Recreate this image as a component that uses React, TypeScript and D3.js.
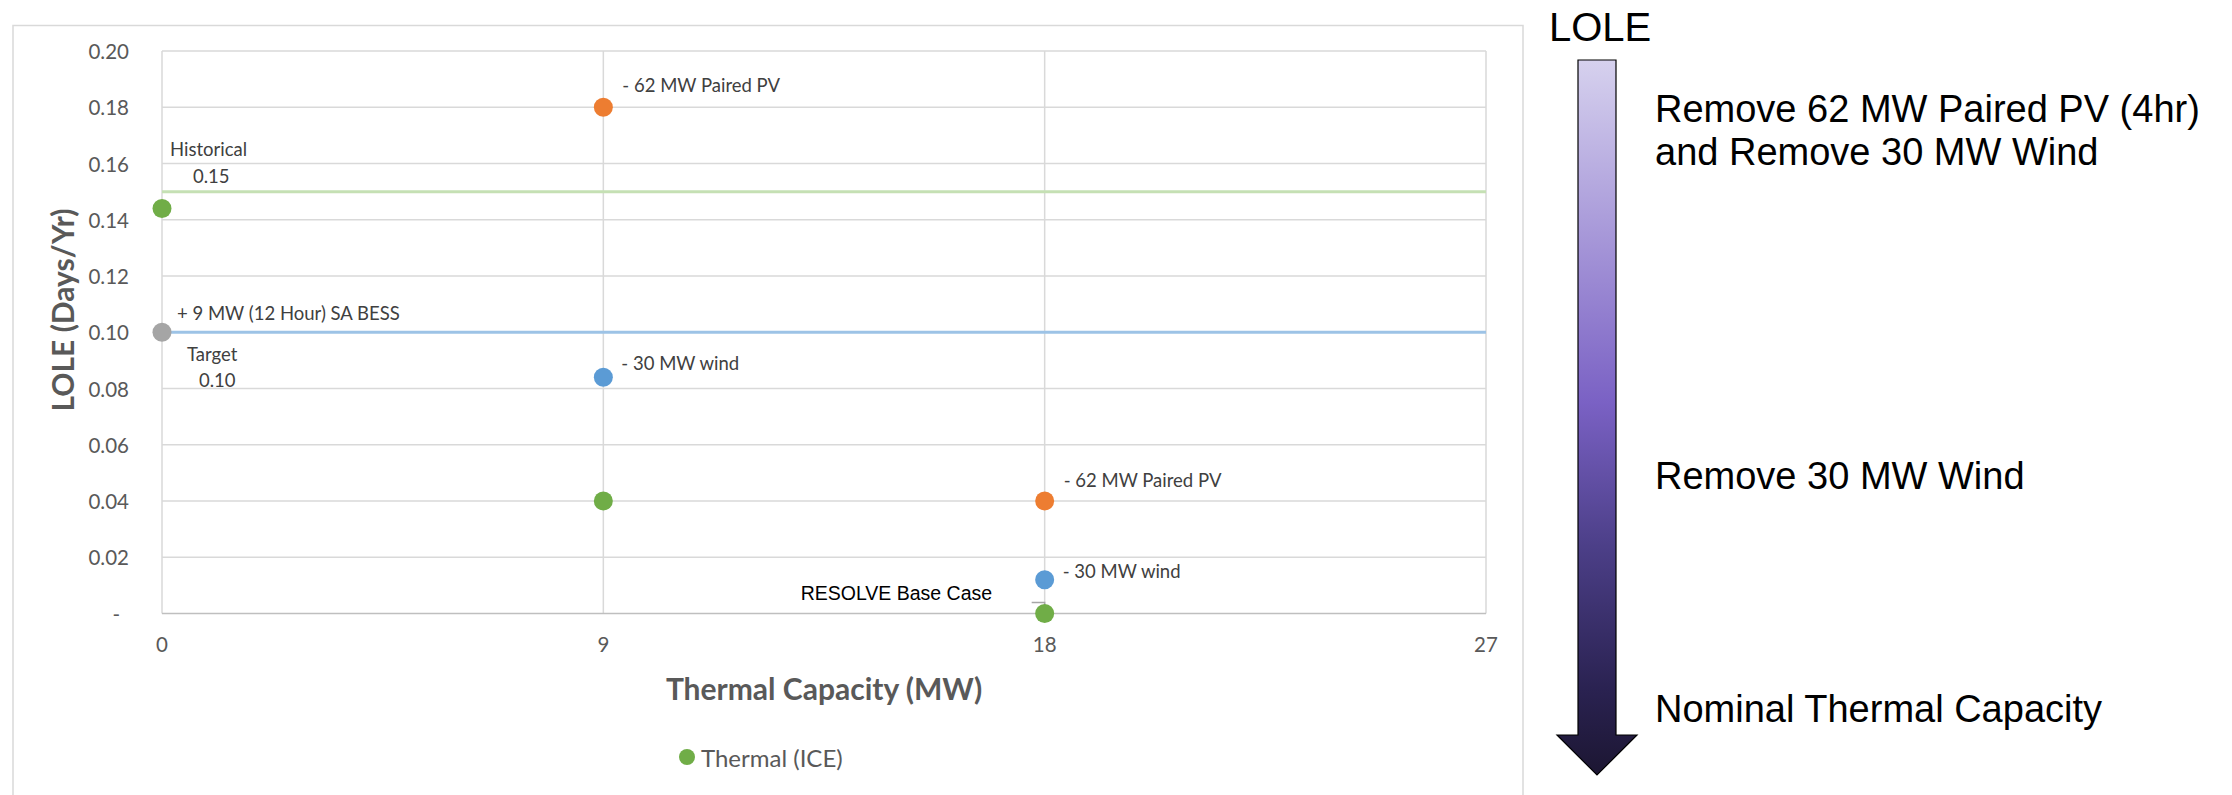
import React, { useEffect, useRef } from 'react';
import * as d3 from 'd3';

// Scenario points (thermal capacity in MW, LOLE in days/yr)
const thermalCapacity = [0, 9, 18];
const thermalLole = [0.144, 0.04, 0];
const pvCapacity = [9, 18];
const pvLole = [0.18, 0.04];
const pvLabels = ['- 62 MW Paired PV', '- 62 MW Paired PV'];
const windCapacity = [9, 18];
const windLole = [0.084, 0.012];
const windLabels = ['- 30 MW wind', '- 30 MW wind'];
const bessCapacity = [0];
const bessLole = [0.1];
const bessLabels = ['+ 9 MW (12 Hour) SA BESS'];

const historicalLole = 0.15;
const targetLole = 0.1;

const xTickValues = [0, 9, 18, 27];
const yTickValues = [0, 0.02, 0.04, 0.06, 0.08, 0.1, 0.12, 0.14, 0.16, 0.18, 0.2];

const legendLabel = 'Thermal (ICE)';
const arrowTitle = 'LOLE';
const arrowSteps = [
  ['Remove 62 MW Paired PV (4hr)', 'and Remove 30 MW Wind'],
  ['Remove 30 MW Wind'],
  ['Nominal Thermal Capacity'],
];

const COLORS = {
  thermal: '#70AD47',
  pv: '#ED7D31',
  wind: '#5B9BD5',
  bess: '#A5A5A5',
  grid: '#D9D9D9',
  axis: '#BFBFBF',
  tick: '#595959',
  label: '#404040',
  historical: '#C5E0B4',
  target: '#9DC3E6',
};

const FONT = 'Lato, "Open Sans", sans-serif';
const ARIAL = '"Liberation Sans", Arial, sans-serif';

const App: React.FC = () => {
  const svgRef = useRef<SVGSVGElement>(null);

  useEffect(() => {
    if (!svgRef.current) return;
    const width = 2232;
    const height = 795;

    const svg = d3.select(svgRef.current);
    svg.selectAll('*').remove();

    svg.append('rect').attr('width', width).attr('height', height).attr('fill', '#fff');

    // chart frame
    svg.append('rect')
      .attr('x', 13).attr('y', 25.5)
      .attr('width', 1510).attr('height', 800)
      .attr('fill', 'none')
      .attr('stroke', COLORS.grid)
      .attr('stroke-width', 1.5);

    const x = d3.scaleLinear().domain([0, 27]).range([162, 1486]);
    const y = d3.scaleLinear().domain([0, 0.2]).range([613.5, 51]);

    // gridlines
    svg.append('g')
      .selectAll('line')
      .data(yTickValues.filter(d => d > 0))
      .join('line')
      .attr('x1', x(0)).attr('x2', x(27))
      .attr('y1', d => y(d)).attr('y2', d => y(d))
      .attr('stroke', COLORS.grid)
      .attr('stroke-width', 1.5);

    svg.append('g')
      .selectAll('line')
      .data(xTickValues)
      .join('line')
      .attr('x1', d => x(d)).attr('x2', d => x(d))
      .attr('y1', y(0.2)).attr('y2', y(0))
      .attr('stroke', COLORS.grid)
      .attr('stroke-width', 1.5);

    // x axis line
    svg.append('line')
      .attr('x1', x(0)).attr('x2', x(27))
      .attr('y1', y(0)).attr('y2', y(0))
      .attr('stroke', COLORS.axis)
      .attr('stroke-width', 1.5);

    // tick labels
    svg.append('g')
      .selectAll('text')
      .data(yTickValues)
      .join('text')
      .attr('x', d => (d === 0 ? 120 : 129))
      .attr('y', d => y(d))
      .attr('text-anchor', 'end')
      .attr('dominant-baseline', 'central')
      .style('font-family', FONT)
      .style('font-size', '20.5px')
      .style('fill', COLORS.tick)
      .text(d => (d === 0 ? '-' : d3.format('.2f')(d)));

    svg.append('g')
      .selectAll('text')
      .data(xTickValues)
      .join('text')
      .attr('x', d => x(d))
      .attr('y', 644)
      .attr('text-anchor', 'middle')
      .attr('dominant-baseline', 'central')
      .style('font-family', FONT)
      .style('font-size', '20.5px')
      .style('fill', COLORS.tick)
      .text(d => d);

    // axis titles
    svg.append('text')
      .attr('x', (x(0) + x(27)) / 2)
      .attr('y', 688)
      .attr('text-anchor', 'middle')
      .attr('dominant-baseline', 'central')
      .style('font-family', FONT)
      .style('font-size', '30px')
      .style('font-weight', 'bold')
      .style('fill', COLORS.tick)
      .text('Thermal Capacity (MW)');

    svg.append('text')
      .attr('transform', 'translate(62,310) rotate(-90)')
      .attr('text-anchor', 'middle')
      .attr('dominant-baseline', 'central')
      .style('font-family', FONT)
      .style('font-size', '30px')
      .style('font-weight', 'bold')
      .style('fill', COLORS.tick)
      .text('LOLE (Days/Yr)');

    // reference lines
    svg.append('line')
      .attr('x1', x(0)).attr('x2', x(27))
      .attr('y1', y(historicalLole)).attr('y2', y(historicalLole))
      .attr('stroke', COLORS.historical)
      .attr('stroke-width', 3);
    svg.append('line')
      .attr('x1', x(0)).attr('x2', x(27))
      .attr('y1', y(targetLole)).attr('y2', y(targetLole))
      .attr('stroke', COLORS.target)
      .attr('stroke-width', 3);

    const labelText = (tx: number, ty: number, s: string, color = COLORS.label, font = FONT, size = '18.5px') =>
      svg.append('text')
        .attr('x', tx).attr('y', ty)
        .attr('dominant-baseline', 'central')
        .style('font-family', font)
        .style('font-size', size)
        .style('fill', color)
        .text(s);

    labelText(x(0) + 8, y(historicalLole) - 43, 'Historical');
    labelText(x(0) + 31, y(historicalLole) - 16, d3.format('.2f')(historicalLole));
    labelText(x(0) + 25, y(targetLole) + 22, 'Target');
    labelText(x(0) + 37, y(targetLole) + 48, d3.format('.2f')(targetLole));

    // leader line for base case
    const baseX = x(thermalCapacity[2]);
    const baseY = y(thermalLole[2]);
    svg.append('path')
      .attr('d', `M${baseX - 13},${baseY - 11}H${baseX}V${baseY}`)
      .attr('fill', 'none')
      .attr('stroke', '#A6A6A6')
      .attr('stroke-width', 1.5);
    labelText(baseX - 244, baseY - 21, 'RESOLVE Base Case', '#000', ARIAL, '19.5px');

    // markers
    const drawSeries = (xs: number[], ys: number[], color: string) =>
      svg.append('g')
        .selectAll('circle')
        .data(xs.map((d, i) => [d, ys[i]]))
        .join('circle')
        .attr('cx', d => x(d[0]))
        .attr('cy', d => y(d[1]))
        .attr('r', 9.5)
        .attr('fill', color);

    drawSeries(bessCapacity, bessLole, COLORS.bess);
    drawSeries(thermalCapacity, thermalLole, COLORS.thermal);
    drawSeries(windCapacity, windLole, COLORS.wind);
    drawSeries(pvCapacity, pvLole, COLORS.pv);

    // point labels
    const pvDy = [-22, -21];
    const windDy = [-14, -9];
    pvLabels.forEach((s, i) => labelText(x(pvCapacity[i]) + 19, y(pvLole[i]) + pvDy[i], s));
    windLabels.forEach((s, i) => labelText(x(windCapacity[i]) + 18, y(windLole[i]) + windDy[i], s));
    bessLabels.forEach((s, i) => labelText(x(bessCapacity[i]) + 15, y(bessLole[i]) - 19, s));

    // legend
    svg.append('circle').attr('cx', 687).attr('cy', 757).attr('r', 8).attr('fill', COLORS.thermal);
    svg.append('text')
      .attr('x', 701).attr('y', 757)
      .attr('dominant-baseline', 'central')
      .style('font-family', FONT)
      .style('font-size', '24px')
      .style('fill', COLORS.tick)
      .text(legendLabel);

    // right side: LOLE direction arrow
    const defs = svg.append('defs');
    const grad = defs.append('linearGradient')
      .attr('id', 'arrowGrad')
      .attr('x1', 0).attr('y1', 0).attr('x2', 0).attr('y2', 1);
    [
      [0, '#D6D1EE'],
      [0.48, '#7A61C4'],
      [0.68, '#4C3F88'],
      [0.88, '#2A2251'],
      [1, '#1C1632'],
    ].forEach(([o, c]) => grad.append('stop').attr('offset', o as number).attr('stop-color', c as string));

    const shaftL = 1578, shaftR = 1616, top = 60, headY = 735, tipY = 775;
    const headL = 1557, headR = 1637, tipX = (headL + headR) / 2;
    svg.append('path')
      .attr('d', `M${shaftL},${top}H${shaftR}V${headY}H${headR}L${tipX},${tipY}L${headL},${headY}H${shaftL}Z`)
      .attr('fill', 'url(#arrowGrad)')
      .attr('stroke', '#000')
      .attr('stroke-width', 1.2);

    svg.append('text')
      .attr('x', 1549).attr('y', 41)
      .style('font-family', ARIAL)
      .style('font-size', '40px')
      .style('fill', '#000')
      .text(arrowTitle);

    const stepBaselines = [121.5, 489, 721.5];
    arrowSteps.forEach((lines, i) => {
      lines.forEach((s, j) => {
        svg.append('text')
          .attr('x', 1655)
          .attr('y', stepBaselines[i] + j * 43.5)
          .style('font-family', ARIAL)
          .style('font-size', '38px')
          .style('fill', '#000')
          .text(s);
      });
    });
  }, []);

  return (
    <div style={{ width: 2232, height: 795 }}>
      <style>{'body{margin:0}'}</style>
      <svg ref={svgRef} width={2232} height={795} viewBox="0 0 2232 795" style={{ display: 'block' }} />
    </div>
  );
};

export default App;
